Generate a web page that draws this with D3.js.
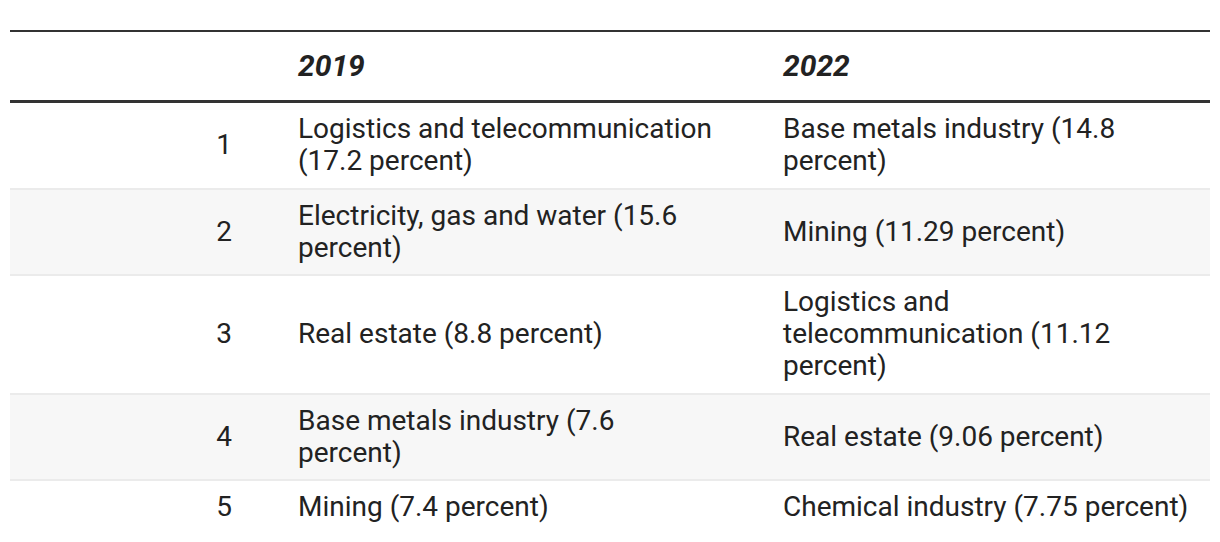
<!DOCTYPE html>
<html>
<head>
<meta charset="utf-8">
<script src="https://cdn.jsdelivr.net/npm/d3@7"></script>
<style>
  html, body { margin: 0; padding: 0; background: #fff; }
  body { width: 1220px; height: 542px; overflow: hidden; font-family: Roboto, "Noto Sans", sans-serif; color: #222; }
  table { position: absolute; left: 10px; top: 30px; width: 1200px; border-collapse: collapse; table-layout: fixed; }
  thead tr { border-top: 2px solid #333; border-bottom: 3px solid #333; }
  th { font-size: 30px; font-weight: 700; font-style: italic; text-align: left; line-height: 32px; padding: 18px 0; color: #222; }
  td { font-size: 28px; line-height: 32px; padding: 10px 0 10.5px 0; vertical-align: middle; }
  tbody tr { border-bottom: 2px solid #ebebeb; }
  tbody tr:last-child { border-bottom: none; }
  tbody tr:nth-child(even) { background: #f7f7f7; }
  .c0 { text-align: right; padding-right: 16px; }
  .c1 { padding-left: 50px; padding-right: 52px; }
  .c2 { padding-left: 15px; padding-right: 19px; }
</style>
</head>
<body>
<script>
const headers = ["", "2019", "2022"];
const ranks = [1, 2, 3, 4, 5];
const sectors2019 = [
  "Logistics and telecommunication (17.2 percent)",
  "Electricity, gas and water (15.6 percent)",
  "Real estate (8.8 percent)",
  "Base metals industry (7.6 percent)",
  "Mining (7.4 percent)"
];
const sectors2022 = [
  "Base metals industry (14.8 percent)",
  "Mining (11.29 percent)",
  "Logistics and telecommunication (11.12 percent)",
  "Real estate (9.06 percent)",
  "Chemical industry (7.75 percent)"
];
const colWidths = [238, 520, 442];

const table = d3.select("body").append("table");
table.append("colgroup").selectAll("col").data(colWidths).join("col").style("width", d => d + "px");
table.append("thead").append("tr").selectAll("th").data(headers).join("th")
  .attr("class", (d, i) => "c" + i).text(d => d);
const rows = ranks.map((r, i) => [r, sectors2019[i], sectors2022[i]]);
table.append("tbody").selectAll("tr").data(rows).join("tr")
  .selectAll("td").data(d => d).join("td")
  .attr("class", (d, i) => "c" + i).text(d => d);
</script>
</body>
</html>
